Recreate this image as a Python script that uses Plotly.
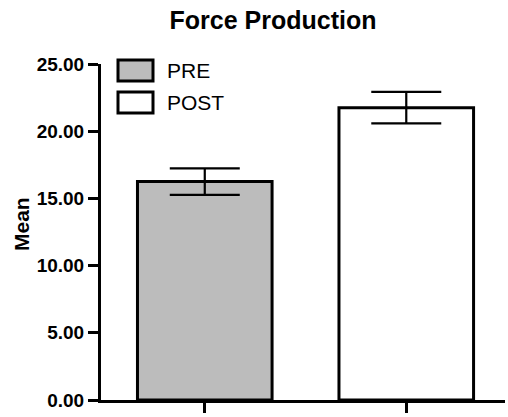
import plotly.graph_objects as go

# Force production means with standard error
groups = ["PRE", "POST"]
means = [16.25, 21.75]
errors = [0.99, 1.17]
fills = ["#bcbcbc", "#ffffff"]
y_ticks = [0, 5, 10, 15, 20, 25]

FONT = "Liberation Sans, Arial, sans-serif"
L, R, T, B = 101, 3, 64, 17
PW, PH = 508 - L - R, 417 - T - B


def px_x(x):
    return (x - L) / PW


def px_y(y):
    return (T + PH - y) / PH


fig = go.Figure()
fig.add_trace(go.Bar(
    x=groups,
    y=means,
    width=0.668,
    marker=dict(color=fills, line=dict(color="black", width=3)),
    error_y=dict(type="data", array=errors, visible=True,
                 color="black", thickness=2.2, width=35),
    showlegend=False,
))

# Legend boxes drawn as keyed swatches
for i, (name, col) in enumerate(zip(groups, fills)):
    y_top = 60 + i * 32
    fig.add_shape(type="rect", xref="paper", yref="paper",
                  x0=px_x(118), x1=px_x(153),
                  y0=px_y(y_top + 21), y1=px_y(y_top),
                  fillcolor=col, line=dict(color="black", width=3))
    fig.add_annotation(text=name, xref="paper", yref="paper",
                       x=px_x(165), y=px_y(y_top + 10.5),
                       xanchor="left", yanchor="middle", showarrow=False,
                       font=dict(family=FONT, size=21, color="black"))

# Y-axis title
fig.add_annotation(text="<b>Mean</b>", xref="paper", yref="paper",
                   x=px_x(21), y=px_y(224), textangle=-90,
                   xanchor="center", yanchor="middle", showarrow=False,
                   font=dict(family=FONT, size=21, color="black"))

fig.update_layout(
    width=508, height=417,
    margin=dict(l=L, r=R, t=T, b=B),
    paper_bgcolor="white", plot_bgcolor="white",
    title=dict(text="<b>Force Production</b>", x=273 / 508, xanchor="center",
               y=1 - 20 / 417, yanchor="middle",
               font=dict(family=FONT, size=25, color="black")),
    font=dict(family=FONT, color="black"),
)
fig.update_xaxes(
    range=[-0.515, 1.49], showline=True, linecolor="black", linewidth=3,
    ticks="outside", ticklen=10, tickwidth=2.5, tickcolor="black",
    showticklabels=False, showgrid=False, zeroline=False,
)
fig.update_yaxes(
    range=[0, 25], tickvals=y_ticks, tickformat=".2f",
    showline=True, linecolor="black", linewidth=3,
    ticks="outside", ticklen=10, tickwidth=2.5, tickcolor="black",
    tickfont=dict(family=FONT, size=19, weight="bold", color="black"),
    ticklabelstandoff=0,
    showgrid=False, zeroline=False,
)

fig.write_html("out.html")
